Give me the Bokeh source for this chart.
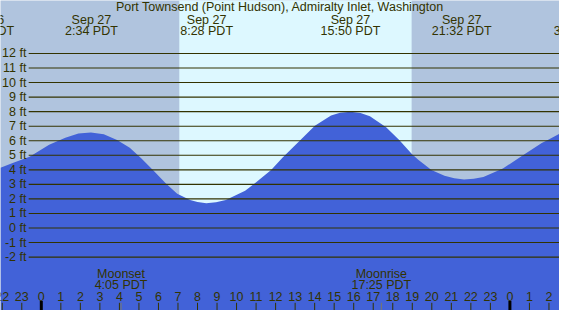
from bokeh.plotting import figure
from bokeh.models import Range1d
from bokeh.core.properties import value
from bokeh.embed import file_html
from bokeh.resources import INLINE

# ---------------- data ----------------
title_text = "Port Townsend (Point Hudson), Admiralty Inlet, Washington"

# tide height (ft), hours relative to Sep 27 00:00
tide_hours = [-2.09, -1.5, -0.60, 0.40, 1.23, 1.9, 2.54, 3.2, 3.88, 4.53, 5.13,
              5.79, 6.37, 6.96, 7.62, 8.0, 8.45, 8.95, 9.45, 10.44, 10.94, 11.77,
              12.35, 13.35, 14.01, 14.84, 15.3, 15.84, 16.35, 16.83, 17.66, 18.33,
              18.99, 19.32, 19.57, 19.98, 20.65, 21.15, 21.65, 22.15, 22.64, 23.64,
              24.63, 25.63, 25.94, 26.54]
tide_ft = [4.14, 4.45, 4.90, 5.73, 6.21, 6.50, 6.56, 6.45, 6.05, 5.51, 4.78,
           3.88, 3.07, 2.35, 1.92, 1.78, 1.70, 1.77, 1.92, 2.57, 3.07, 3.99,
           4.83, 6.16, 7.03, 7.73, 7.93, 7.99, 7.90, 7.69, 6.93, 6.05,
           5.07, 4.68, 4.42, 3.98, 3.59, 3.42, 3.33, 3.38, 3.50, 4.09,
           4.97, 5.84, 6.05, 6.49]

level_ft = list(range(-2, 13))
level_labels = [f"{v} ft" for v in level_ft]

hour_ticks = list(range(-2, 27))
hour_labels = [str(h % 24) for h in hour_ticks]

event_dates = ["Sep 26", "Sep 27", "Sep 27", "Sep 27", "Sep 27", "Sep 28"]
event_times = ["21:05", "2:34", "8:28", "15:50", "21:32", "3:36"]
event_day = [-1, 0, 0, 0, 0, 1]

moon_names = ["Moonset", "Moonrise"]
moon_times = ["4:05", "17:25"]

sunrise = "7:04"
sunset = "18:58"


def to_hours(t, day=0):
    h, m = t.split(":")
    return int(h) + int(m) / 60.0 + 24 * day


event_x = [to_hours(t, d) for t, d in zip(event_times, event_day)]
event_time_labels = [f"{t} PDT" for t in event_times]
moon_x = [to_hours(t) for t in moon_times]
moon_time_labels = [f"{t} PDT" for t in moon_times]
sr, ss = to_hours(sunrise), to_hours(sunset)

# ---------------- styles ----------------
NIGHT = "#b0c4de"
DAY = "#ddf8ff"
WATER = "#4262d8"
INK = "#333300"
FONT = value("Liberation Sans")
FS = "12.5px"

X0, X1 = -2.09, 26.54
Y0, Y1 = -5.67, 15.64

p = figure(width=559, height=310, x_range=Range1d(X0, X1), y_range=Range1d(Y0, Y1),
           output_backend="svg", toolbar_location=None, min_border=0,
           x_axis_location=None, y_axis_location=None,
           background_fill_color=NIGHT, border_fill_color=NIGHT,
           outline_line_color=None)
p.grid.visible = False

# daylight band
p.quad(left=[sr], right=[ss], bottom=[Y0 - 5], top=[Y1 + 5], color=DAY, line_color=None)

# water
p.varea(x=tide_hours, y1=[Y0 - 5] * len(tide_hours), y2=tide_ft, color=WATER)

# level lines
p.segment(x0=[-0.647] * len(level_ft), x1=[X1 + 1] * len(level_ft),
          y0=level_ft, y1=level_ft, line_color=INK, line_width=1.1)

p.text(x=[-0.762] * len(level_ft), y=level_ft, text=level_labels,
       text_align="right", text_baseline="middle", text_font=FONT,
       text_font_size=FS, text_color=INK)

# title
p.text(x=[(X0 + X1) / 2], y=[15.16], text=[title_text], text_align="center",
       text_baseline="middle", text_font=FONT, text_font_size=FS, text_color=INK)

# tide extremes labels
p.text(x=event_x, y=[14.33] * len(event_x), text=event_dates, text_align="center",
       text_baseline="middle", text_font=FONT, text_font_size=FS, text_color=INK)
p.text(x=event_x, y=[13.57] * len(event_x), text=event_time_labels, text_align="center",
       text_baseline="middle", text_font=FONT, text_font_size=FS, text_color=INK)

# moon labels
p.text(x=moon_x, y=[-3.14] * len(moon_x), text=moon_names, text_align="center",
       text_baseline="middle", text_font=FONT, text_font_size=FS, text_color=INK)
p.text(x=moon_x, y=[-3.92] * len(moon_x), text=moon_time_labels, text_align="center",
       text_baseline="middle", text_font=FONT, text_font_size=FS, text_color=INK)
p.segment(x0=moon_x, x1=moon_x, y0=[-5.14] * len(moon_x), y1=[Y0 - 1] * len(moon_x),
          line_color="#7a7a66", line_width=1)

# hour ticks and labels
reg = [h for h in hour_ticks if h % 24 != 0]
mid = [h for h in hour_ticks if h % 24 == 0]
p.segment(x0=reg, x1=reg, y0=[-5.14] * len(reg), y1=[Y0 - 1] * len(reg),
          line_color=INK, line_width=1)
p.segment(x0=mid, x1=mid, y0=[-5.01] * len(mid), y1=[Y0 - 1] * len(mid),
          line_color="#000000", line_width=3)
p.text(x=hour_ticks, y=[-4.73] * len(hour_ticks), text=hour_labels, text_align="center",
       text_baseline="middle", text_font=FONT, text_font_size=FS, text_color=INK)

open("out.html", "w").write(file_html(p, INLINE))
